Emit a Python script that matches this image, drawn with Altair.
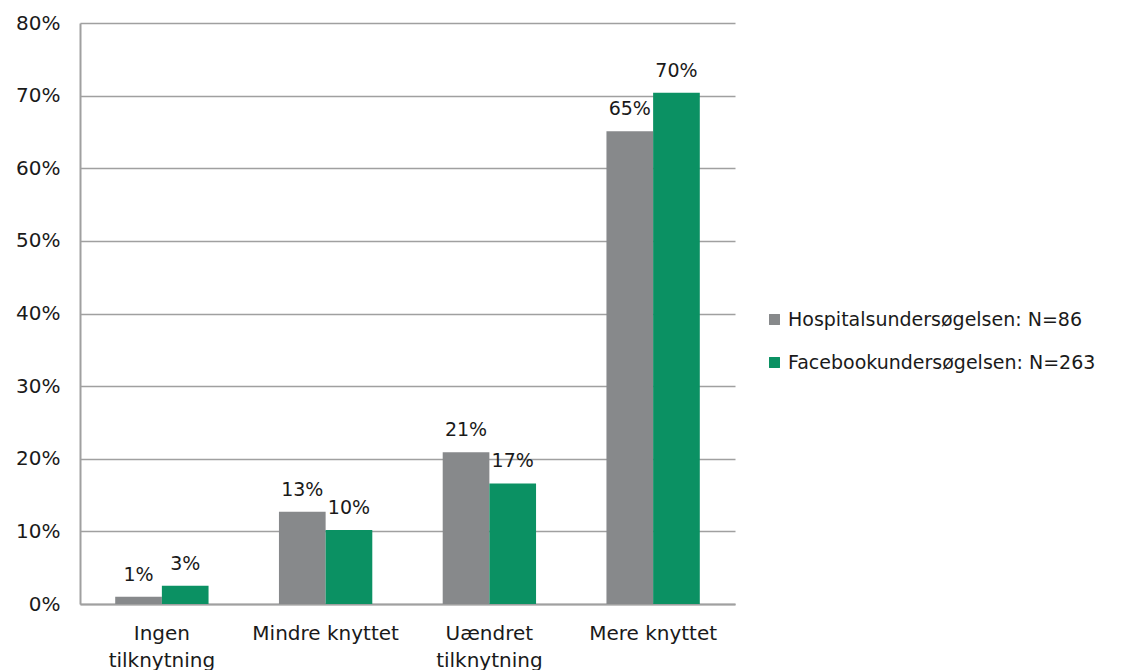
import altair as alt
import pandas as pd

categories = ["Ingen tilknytning", "Mindre knyttet", "Uændret tilknytning", "Mere knyttet"]
series = ["Hospitalsundersøgelsen:  N=86", "Facebookundersøgelsen:  N=263"]
hospital = [1.0, 12.7, 20.9, 65.1]
facebook = [2.5, 10.2, 16.6, 70.4]
hospital_labels = ["1%", "13%", "21%", "65%"]
facebook_labels = ["3%", "10%", "17%", "70%"]
colors = ["#87898B", "#0B9163"]

rows = []
for i, c in enumerate(categories):
    rows.append({"cat": c, "series": series[0], "order": 0, "value": hospital[i], "label": hospital_labels[i]})
    rows.append({"cat": c, "series": series[1], "order": 1, "value": facebook[i], "label": facebook_labels[i]})
df = pd.DataFrame(rows)

FONT = "DejaVu Sans"

x = alt.X("cat:N", sort=categories, title=None,
          scale=alt.Scale(paddingInner=0.43, paddingOuter=0.215),
          axis=alt.Axis(labelAngle=0, labelFontSize=20, labelFont=FONT, labelColor="#1a1a1a",
                        labelPadding=19, ticks=False, domainColor="#A0A0A0", domainWidth=2,
                        labelLineHeight=27,
                        labelExpr="datum.label == 'Ingen tilknytning' ? ['Ingen', 'tilknytning'] : datum.label == 'Uændret tilknytning' ? ['Uændret', 'tilknytning'] : datum.label"))
xo = alt.XOffset("series:N", sort=series, scale=alt.Scale(paddingInner=0, paddingOuter=0))
y = alt.Y("value:Q", title=None,
          scale=alt.Scale(domain=[0, 80], nice=False),
          axis=alt.Axis(values=[0, 10, 20, 30, 40, 50, 60, 70, 80], labelExpr="datum.value + '%'",
                        labelFontSize=20, labelFont=FONT, labelColor="#1a1a1a", labelPadding=20,
                        ticks=False, gridColor="#A0A0A0", gridWidth=1.5,
                        domainColor="#A0A0A0", domainWidth=2))

bars = alt.Chart(df).mark_bar().encode(
    x=x, xOffset=xo, y=y,
    color=alt.Color("series:N", sort=series,
                    scale=alt.Scale(domain=series, range=colors),
                    legend=alt.Legend(title=None, orient="none", legendX=685, legendY=287,
                                      symbolType="square", symbolSize=120, symbolStrokeWidth=0,
                                      labelFontSize=19, labelFont=FONT, labelColor="#1a1a1a",
                                      labelOffset=4, rowPadding=23, labelLimit=400)),
)

text = alt.Chart(df).mark_text(baseline="alphabetic", dy=-16, fontSize=19, font=FONT, color="#1a1a1a").encode(
    x=alt.X("cat:N", sort=categories), xOffset=alt.XOffset("series:N", sort=series), y="value:Q",
    text="label:N",
)

chart = (bars + text).properties(
    width=655, height=581,
    padding={"left": 80, "top": 23, "right": 400, "bottom": 66},
    autosize=alt.AutoSizeParams(type="none"),
).configure_view(stroke=None)

chart.save("out.html", embed_options={"renderer": "svg", "actions": False})
